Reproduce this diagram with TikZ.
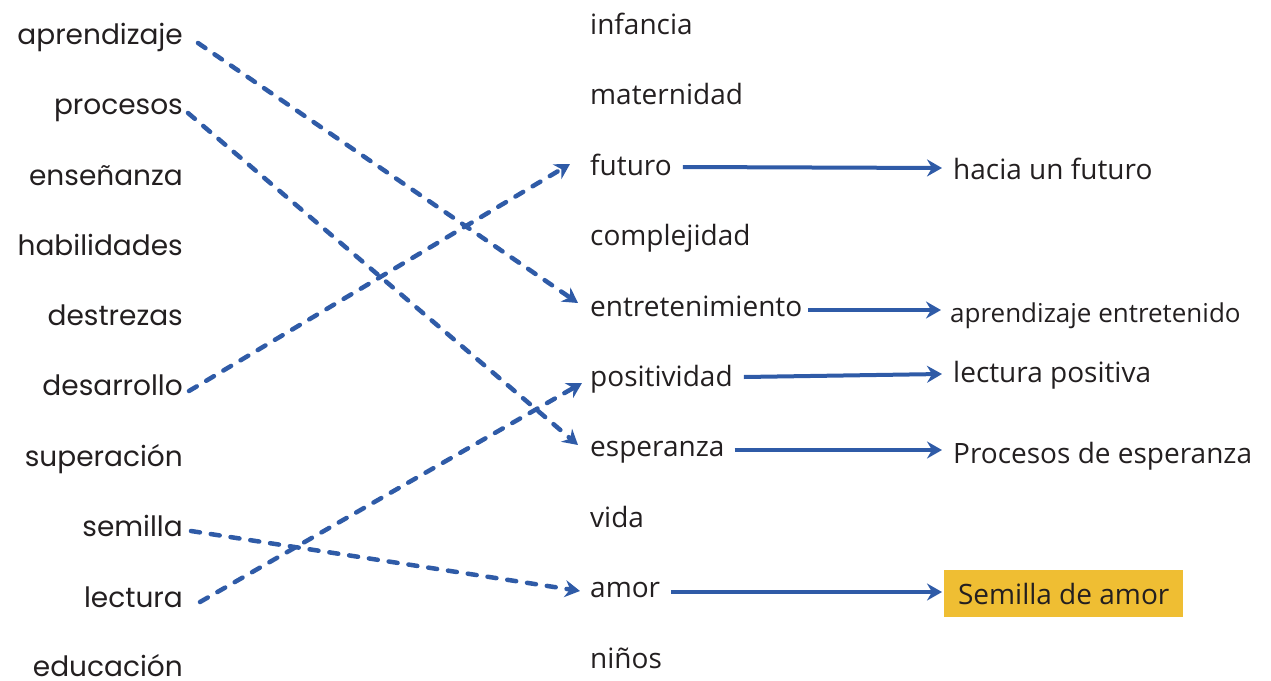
\documentclass[tikz,border=0pt]{standalone}
\usepackage{fontspec}
\setmainfont{Open Sans}
\newfontfamily\wordfont{Poppins}
\usetikzlibrary{arrows.meta,positioning}
\definecolor{linkblue}{HTML}{2F5BA7}
\definecolor{markyellow}{HTML}{EFBE33}
\definecolor{ink}{HTML}{231F20}

\begin{document}
\begin{tikzpicture}[x=1pt,y=-1pt,>={Stealth[length=15pt,width=17pt,inset=5pt]}]
  \tikzstyle{source}=[anchor=base east,inner sep=0pt,text=ink,font=\wordfont\fontsize{28}{32}\selectfont]
  \tikzstyle{target}=[anchor=base west,inner sep=0pt,text=ink,font=\fontsize{28}{32}\selectfont]
  \tikzstyle{result}=[anchor=base west,inner xsep=9pt,inner ysep=0pt,text=ink,font=\fontsize{28}{32}\selectfont]
  \tikzstyle{marked}=[result,fill=markyellow,text height=34pt,text depth=13pt,minimum width=239pt]
  \tikzstyle{dashlink}=[->,linkblue,line width=4.5pt,line cap=round,dash pattern=on 9pt off 11pt]
  \tikzstyle{link}=[->,linkblue,line width=4pt]

  \useasboundingbox (0,0) rectangle (1271,680);

  % Left column.
  \node [source] (aprendizaje) at (183,44)  {aprendizaje};
  \node [source] (procesos)    at (183,114) {procesos};
  \node [source] (ensenanza)   at (183,185) {enseñanza};
  \node [source] (habilidades) at (183,255) {habilidades};
  \node [source] (destrezas)   at (183,325) {destrezas};
  \node [source] (desarrollo)  at (183,395) {desarrollo};
  \node [source] (superacion)  at (183,466) {superación};
  \node [source] (semilla)     at (183,536) {semilla};
  \node [source] (lectura)     at (183,607) {lectura};
  \node [source] (educacion)   at (183,676) {educación};

  % Middle column.
  \node [target] (infancia)        at (590,34)  {infancia};
  \node [target] (maternidad)      at (590,104) {maternidad};
  \node [target] (futuro)          at (590,175) {futuro};
  \node [target] (complejidad)     at (590,245) {complejidad};
  \node [target] (entretenimiento) at (590,316) {entretenimiento};
  \node [target] (positividad)     at (590,386) {positividad};
  \node [target] (esperanza)       at (590,456) {esperanza};
  \node [target] (vida)            at (590,527) {vida};
  \node [target] (amor)            at (590,597) {amor};
  \node [target] (ninos)           at (590,668) {niños};

  % Right column.
  \node [result] (haciafuturo) at (944,179) {hacia un futuro};
  \node [result,font=\fontsize{26}{30}\selectfont] (aprentretenido) at (941,322) {aprendizaje entretenido};
  \node [result] (lecturapos)  at (944,382) {lectura positiva};
  \node [result] (procesosesp) at (944,463) {Procesos de esperanza};
  \node [marked] (semillaamor) at (944,604) {Semilla de amor};

  % Dashed links.
  \draw [dashlink] ([shift={(15,-1)}]aprendizaje.base east) -- ([shift={(-12,-13)}]entretenimiento.base west);
  \draw [dashlink] ([shift={(5,-1)}]procesos.base east) -- ([shift={(-12,-11)}]esperanza.base west);
  \draw [dashlink] ([shift={(6,-4)}]desarrollo.base east) -- ([shift={(-20,-11)}]futuro.base west);
  \draw [dashlink] ([shift={(8,-5)}]semilla.base east) -- ([shift={(-10,-6)}]amor.base west);
  \draw [dashlink] ([shift={(17,-5)}]lectura.base east) -- ([shift={(-8,-3)}]positividad.base west);

  % Solid links.
  \draw [link] ([shift={(11,-8)}]futuro.base east) -- ([shift={(-2,-11)}]haciafuturo.base west);
  \draw [link] ([shift={(6,-6)}]entretenimiento.base east) -- ([shift={(0,-12)}]aprentretenido.base west);
  \draw [link] ([shift={(11,-9)}]positividad.base east) -- ([shift={(-2,-8)}]lecturapos.base west);
  \draw [link] ([shift={(10,-6)}]esperanza.base east) -- ([shift={(-2,-13)}]procesosesp.base west);
  \draw [link] ([shift={(11,-5)}]amor.base east) -- ([shift={(-2,-12)}]semillaamor.base west);
\end{tikzpicture}
\end{document}
